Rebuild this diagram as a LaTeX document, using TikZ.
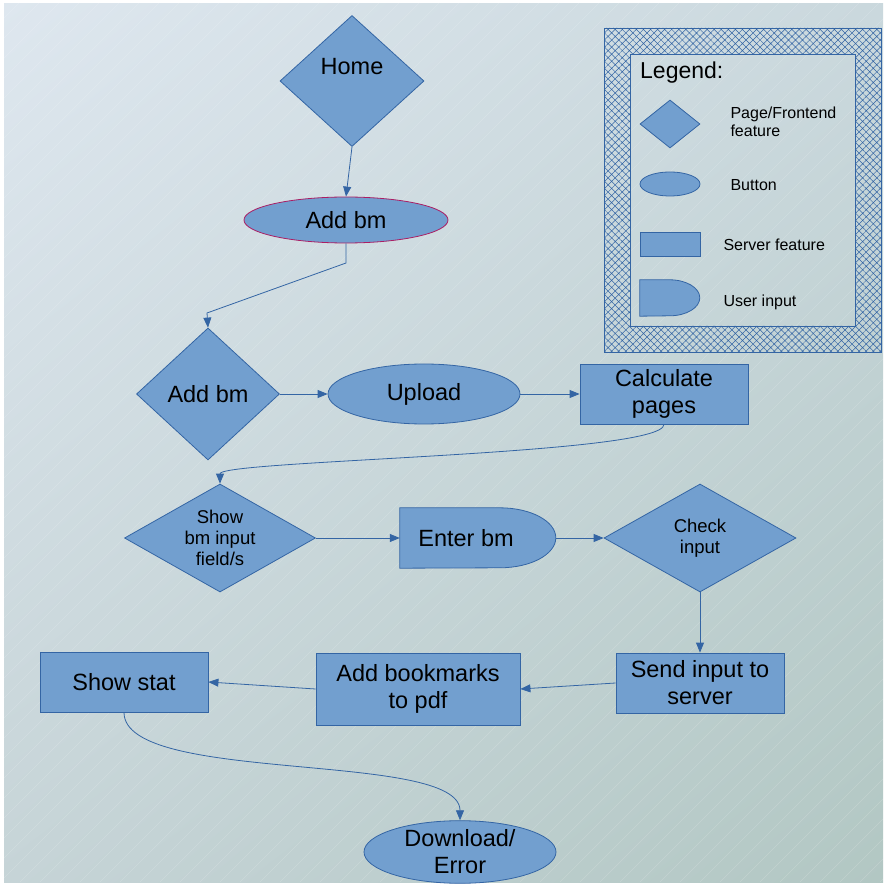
\documentclass[tikz,border=0pt]{standalone}
\usepackage{fontspec}
\setmainfont{Liberation Sans}
\usetikzlibrary{arrows.meta,shapes,positioning,shadings,patterns.meta}

\definecolor{shapefill}{RGB}{114,159,207}
\definecolor{shapeline}{RGB}{52,101,164}
\definecolor{btnline}{RGB}{170,30,100}
\definecolor{bgtl}{RGB}{222,231,239}
\definecolor{bgtr}{RGB}{202,216,221}
\definecolor{bgbl}{RGB}{198,212,215}
\definecolor{bgbr}{RGB}{178,199,195}

\begin{document}
\begin{tikzpicture}[x=1pt,y=1pt,
	page/.style={diamond, draw=shapeline, fill=shapefill, line width=0.8pt, inner sep=0pt, align=center},
	button/.style={ellipse, draw=shapeline, fill=shapefill, line width=0.8pt, inner sep=0pt, align=center},
	server/.style={rectangle, draw=shapeline, fill=shapefill, line width=0.8pt, inner sep=0pt, align=center},
	userin/.style={rectangle, inner sep=0pt},
	dshape/.style={draw=shapeline, fill=shapefill, line width=0.8pt},
	big/.style={font=\fontsize{23.5}{27}\selectfont},
	small/.style={font=\fontsize{18.5}{21}\selectfont},
	legtext/.style={font=\fontsize{16}{18}\selectfont, align=left, anchor=west},
	flow/.style={-{Triangle[length=10pt,width=8pt]}, draw=shapeline, line width=0.8pt}]
		% page and background
		\useasboundingbox[fill=white] (0,0) rectangle (887,-885);
		\shade[upper left=bgtl, upper right=bgtr, lower left=bgbl, lower right=bgbr] (4,-4) rectangle (883,-882);
		\begin{scope}
			\clip (4,-4) rectangle (883,-882);
			\foreach \k in {-880,-860,...,880}
				\draw[white, opacity=0.18, line width=0.6pt] (\k,-882) -- ++(900,900);
		\end{scope}
		
		% legend
		\path[pattern={Hatch[angle=45,distance=5pt,line width=0.5pt]}, pattern color=shapeline, even odd rule] (604,-28) rectangle (881,-352) (630,-54) rectangle (855,-326);
		\draw[shapeline, line width=0.8pt] (604,-28) rectangle (881,-352);
		\draw[shapeline, line width=0.8pt] (630,-54) rectangle (855,-326);
		\node[anchor=west, inner sep=0pt, font=\fontsize{23}{27}\selectfont] (legtitle) at (640,-73) {Legend:};
		\node[page, minimum width=60pt, minimum height=48pt] (legpage) at (670,-124) {};
		\node[button, minimum width=60pt, minimum height=24pt] (legbutton) at (670,-184) {};
		\node[server, minimum width=60pt, minimum height=24pt] (legserver) at (670,-244) {};
		\node[userin, minimum width=60pt, minimum height=36pt] (leguser) at (670,-298) {};
		\draw[dshape] (leguser.north west) -- ++(30,0) arc[start angle=90, end angle=-90, x radius=30, y radius=18] -- (leguser.south west) -- cycle;
		\node[legtext] (legpagetext) at (727,-122) {Page/Frontend\\feature};
		\node[legtext] (legbuttontext) at (727,-185) {Button};
		\node[legtext] (legservertext) at (720,-245) {Server feature};
		\node[legtext] (legusertext) at (720,-302) {User input};
		
		% flow
		\node[page, minimum width=144pt, minimum height=131pt] (home) at (352,-81) {};
		\node[big] (hometext) at (352,-67) {Home};
		\node[button, big, draw=btnline, minimum width=204pt, minimum height=46pt] (addbtn) at (346,-220) {Add bm};
		\node[page, big, minimum width=143pt, minimum height=132pt] (addpage) at (208,-394) {Add bm};
		\node[button, big, minimum width=192pt, minimum height=60pt] (upload) at (424,-394) {Upload};
		\node[server, big, minimum width=168pt, minimum height=60pt] (calc) at (664,-394) {Calculate\\pages};
		\node[page, minimum width=191pt, minimum height=108pt] (showin) at (220,-538) {};
		\node[small, align=center] (showintext) at (220,-538) {Show\\bm input\\field/s};
		\node[userin, minimum width=156pt, minimum height=60pt] (enter) at (478,-538) {};
		\draw[dshape] (enter.north west) -- ++(100,0) arc[start angle=90, end angle=-90, x radius=56, y radius=30] -- (enter.south west) -- cycle;
		\node[big] (entertext) at (466,-538) {Enter bm};
		\node[page, small, minimum width=192pt, minimum height=108pt] (check) at (700,-538) {Check\\input};
		\node[server, big, minimum width=168pt, minimum height=60pt] (send) at (700,-683) {Send input to\\server};
		\node[server, big, minimum width=204pt, minimum height=72pt] (addpdf) at (418,-689) {Add bookmarks\\to pdf};
		\node[server, big, minimum width=168pt, minimum height=60pt] (stat) at (124,-682) {Show stat};
		\node[button, big, minimum width=192pt, minimum height=58pt] (down) at (460,-852) {Download/\\Error};
		
		\coordinate (bendA) at (346,-263);
		\coordinate (bendB) at (207,-313);
		
		\draw[flow] (home.south) -- (addbtn.north);
		\draw[flow] (addbtn.south) -- (bendA) -- (bendB) -- (addpage.north);
		\draw[flow] (addpage.east) -- (upload.west);
		\draw[flow] (upload.east) -- (calc.west);
		\draw[flow] (calc.south) .. controls (664,-455) and (220,-460) .. (showin.north);
		\draw[flow] (showin.east) -- (enter.west);
		\draw[flow] (enter.east) -- (check.west);
		\draw[flow] (check.south) -- (send.north);
		\draw[flow] (send.west) -- (addpdf.east);
		\draw[flow] (addpdf.west) -- (stat.east);
		\draw[flow] (stat.south) .. controls (124,-785) and (460,-750) .. (down.north);
	\end{tikzpicture}
\end{document}
